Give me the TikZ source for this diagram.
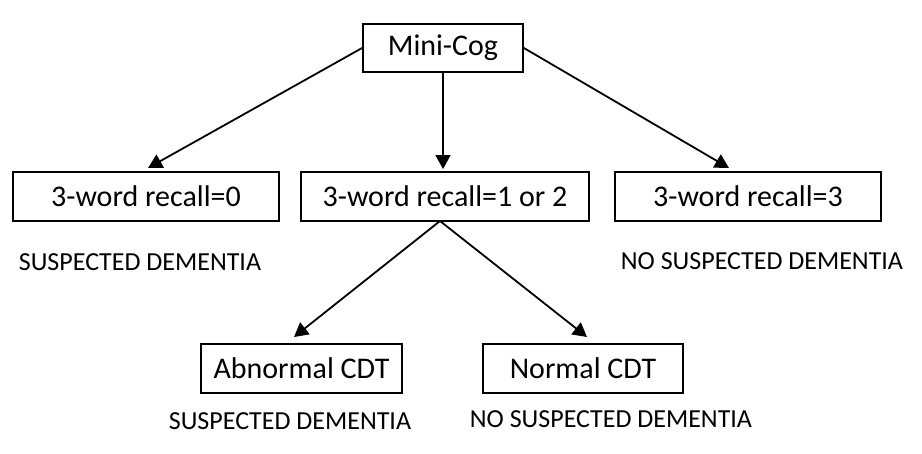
\documentclass[tikz,border=0pt]{standalone}
\usepackage{fontspec}
\setmainfont{Carlito}
\usetikzlibrary{arrows.meta}
\begin{document}
\begin{tikzpicture}[x=1pt,y=-1pt,
  box/.style={draw=black,line width=1.8pt,inner sep=0pt,font=\fontsize{30}{34}\selectfont},
  lbl/.style={inner sep=0pt,font=\fontsize{26}{30}\selectfont},
  arr/.style={line width=1.8pt,-{Triangle[length=14pt,width=15pt]}}]
\useasboundingbox (0,0) rectangle (922,453);
\node[box,minimum width=160pt,minimum height=48pt] (mc) at (443,48) {Mini-Cog};
\node[box,minimum width=266pt,minimum height=49pt] (b1) at (146,196.5) {3-word recall=0};
\node[box,minimum width=288pt,minimum height=49pt] (b2) at (445,196.5) {3-word recall=1 or 2};
\node[box,minimum width=266pt,minimum height=49pt] (b3) at (748,196.5) {3-word recall=3};
\node[box,minimum width=201pt,minimum height=49pt] (ab) at (301.5,368.5) {Abnormal CDT};
\node[box,minimum width=200pt,minimum height=49pt] (nm) at (583,368.5) {Normal CDT};
\node[lbl] (l1) at (140,262) {SUSPECTED DEMENTIA};
\node[lbl] (l2) at (762,261) {NO SUSPECTED DEMENTIA};
\node[lbl] (l3) at (290,421) {SUSPECTED DEMENTIA};
\node[lbl] (l4) at (611,419.5) {NO SUSPECTED DEMENTIA};
\coordinate (t1) at (148,168);
\coordinate (t2) at (443,169);
\coordinate (t3) at (729,168);
\coordinate (ap) at (440,221);
\coordinate (t4) at (294,337);
\coordinate (t5) at (587,337);
\draw[arr] (mc.west) -- (t1);
\draw[arr] (mc.south) -- (t2);
\draw[arr] (mc.east) -- (t3);
\draw[arr] (ap) -- (t4);
\draw[arr] (ap) -- (t5);
\end{tikzpicture}
\end{document}
